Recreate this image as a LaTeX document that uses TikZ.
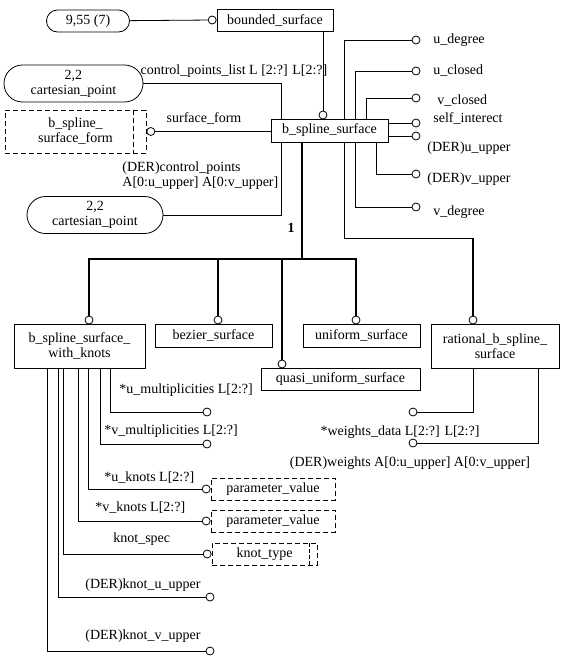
\documentclass[tikz,border=0pt]{standalone}
\usepackage{fontspec}
\setmainfont{Liberation Serif}
\usetikzlibrary{shapes,positioning}

\begin{document}
\begin{tikzpicture}[x=1pt, y=-1pt, line width=0.8pt, inner sep=2pt,
  ent/.style={draw, rectangle, minimum height=23pt, align=center},
  deftype/.style={draw, rectangle, dash pattern=on 5pt off 3pt, minimum height=22pt, align=center},
  sel/.style={draw, rounded rectangle, minimum height=22pt, align=center},
  dot/.style={draw, circle, fill=white, inner sep=0pt, minimum size=8pt},
  super/.style={line width=1.6pt}]
\tikzstyle{every node}=[font=\fontsize{14}{15}\selectfont]
\useasboundingbox (0,0) rectangle (566,664);

\node[sel, minimum width=87pt] (sel955) at (88,21) {9,55 (7)};
\node[ent, minimum width=116pt, minimum height=22pt] (bnd) at (275,20) {bounded\_surface};
\node[ent, minimum width=117pt] (bss) at (329.5,130.5) {b\_spline\_surface};
\node[sel, minimum width=143pt, minimum height=37pt] (cp1) at (73.5,83.5) {2,2\\cartesian\_point};
\node[deftype, minimum width=141pt, minimum height=43pt] (form) at (75.5,131.5) {b\_spline\_\\surface\_form};
\node[sel, minimum width=140pt, minimum height=37pt] (cp2) at (95,215) {2,2\\cartesian\_point};

\node[ent, minimum width=131pt, minimum height=44pt] (knots) at (79.5,346) {b\_spline\_surface\_\\with\_knots};
\node[ent, minimum width=117pt] (bez) at (213.5,335.5) {bezier\_surface};
\node[ent, minimum width=159pt, minimum height=22pt] (quasi) at (340.5,379) {quasi\_uniform\_surface};
\node[ent, minimum width=117pt] (unif) at (361.5,335.5) {uniform\_surface};
\node[ent, minimum width=128pt, minimum height=44pt] (rat) at (495,346) {rational\_b\_spline\_\\surface};

\node[deftype, minimum width=124pt] (pv1) at (273,489) {parameter\_value};
\node[deftype, minimum width=124pt] (pv2) at (273,521) {parameter\_value};
\node[deftype, minimum width=105pt] (ktype) at (264.5,554) {knot\_type};
\draw[dash pattern=on 5pt off 3pt] ([xshift=-13pt]form.north east) -- ([xshift=-13pt]form.south east);
\draw[dash pattern=on 4pt off 2pt] ([xshift=-8pt]ktype.north east) -- ([xshift=-8pt]ktype.south east);

% bounded_surface and its subtype
\node[dot, left=0pt of bnd] (c0) {};
\draw (sel955) -- (c0);
\node[dot] (c1) at (323,115) {};
\draw (c1) -- (c1 |- bnd.south);

% attributes of b_spline_surface
\node[dot] (a1) at (416,40) {};
\node[dot] (a2) at (416,71) {};
\node[dot] (a3) at (416,98) {};
\node[dot] (a4) at (416,123) {};
\node[dot] (a5) at (416,136) {};
\node[dot] (a6) at (416,174) {};
\node[dot] (a7) at (416,207) {};
\draw (a1) -| ([xshift=74pt]bss.north west);
\draw (a2) -| ([xshift=85pt]bss.north west);
\draw (a3) -| ([xshift=96pt]bss.north west);
\draw (a4) -- (a4 -| bss.east);
\draw (a5) -- (a5 -| bss.east);
\draw (a6) -| ([xshift=106pt]bss.south west);
\draw (a7) -| ([xshift=85pt]bss.south west);
\node[anchor=west] at (431,40) {u\_degree};
\node[anchor=west] at (431,71) {u\_closed};
\node[anchor=west] at (435,101) {v\_closed};
\node[anchor=west] at (431,118) {self\_interect};
\node[anchor=west] at (425,148) {(DER)u\_upper};
\node[anchor=west] at (425,179) {(DER)v\_upper};
\node[anchor=west] at (431,212) {v\_degree};

\draw (cp1) -| ([xshift=11pt]bss.north west);
\node at (234,71) {control\_points\_list L [2:?] L[2:?]};
\node[dot, right=0pt of form] (cf) {};
\draw (cf) -- (cf -| bss.west);
\node at (204,118) {surface\_form};
\draw (cp2) -| ([xshift=11pt]bss.south west);
\node[anchor=west, align=left] at (120,176) {(DER)control\_points\\A[0:u\_upper] A[0:v\_upper]};

% subtypes
\coordinate (j) at (302,259);
\node[font=\fontsize{14}{15}\selectfont\bfseries] at (291,228) {1};
\node[dot] (s1) at (89,320) {};
\node[dot] (s2) at (218,320) {};
\node[dot] (s3) at (282,364) {};
\node[dot] (s4) at (356,320) {};
\node[dot] (s5) at (473,320) {};
\draw[super] (bss.south -| j) -- (j);
\draw[super] (s1) |- (j) -| (s4);
\draw[super] (s2) -- (s2 |- j);
\draw[super] (s3) -- (s3 |- j);
\draw[super] ([xshift=74pt]bss.south west) -- ++(0,96) -| (s5);

% attributes of b_spline_surface_with_knots
\node[dot] (k1) at (207,412) {};
\node[dot] (k2) at (207,444) {};
\node[dot, left=0pt of pv1] (k3) {};
\node[dot, left=0pt of pv2] (k4) {};
\node[dot, left=0pt of ktype] (k5) {};
\node[dot] (k6) at (210,597) {};
\node[dot] (k7) at (210,651) {};
\draw (k1) -| ([xshift=97pt]knots.south west);
\draw (k2) -| ([xshift=87pt]knots.south west);
\draw (k3) -| ([xshift=75pt]knots.south west);
\draw (k4) -| ([xshift=65pt]knots.south west);
\draw (k5) -| ([xshift=50pt]knots.south west);
\draw (k6) -| ([xshift=45pt]knots.south west);
\draw (k7) -| ([xshift=34pt]knots.south west);
\node[anchor=west] at (117,390) {*u\_multiplicities L[2:?]};
\node[anchor=west] at (102,431) {*v\_multiplicities L[2:?]};
\node[anchor=west] at (102,478) {*u\_knots L[2:?]};
\node[anchor=west] at (93,508) {*v\_knots L[2:?]};
\node[anchor=west] at (111,539) {knot\_spec};
\node[anchor=west] at (83,585) {(DER)knot\_u\_upper};
\node[anchor=west] at (83,636) {(DER)knot\_v\_upper};

% attributes of rational_b_spline_surface
\node[dot] (r1) at (413,412) {};
\node[dot] (r2) at (413,443) {};
\draw (r1) -| ([xshift=43pt]rat.south west);
\draw (r2) -| ([xshift=108pt]rat.south west);
\node at (400,432) {*weights\_data L[2:?] L[2:?]};
\node at (410,463) {(DER)weights A[0:u\_upper] A[0:v\_upper]};
\end{tikzpicture}
\end{document}
